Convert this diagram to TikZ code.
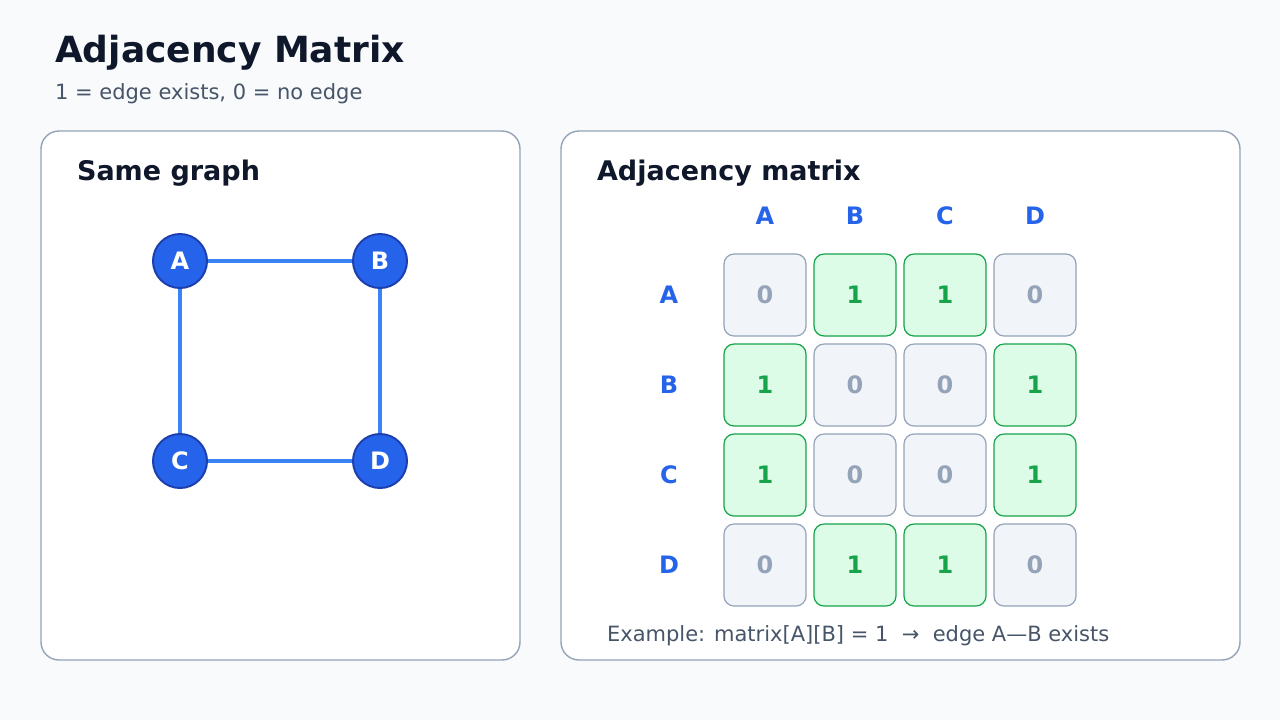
\documentclass[tikz,border=0pt]{standalone}
\usepackage{fontspec}
\setmainfont{DejaVu Sans}
\definecolor{bg}{HTML}{F8FAFC}
\definecolor{bord}{HTML}{94A3B8}
\definecolor{ink}{HTML}{0F172A}
\definecolor{sub}{HTML}{475569}
\definecolor{blue}{HTML}{2563EB}
\definecolor{dblue}{HTML}{1E40AF}
\definecolor{eblue}{HTML}{3B82F6}
\definecolor{gfill}{HTML}{DCFCE7}
\definecolor{gline}{HTML}{16A34A}
\definecolor{zfill}{HTML}{F1F5F9}
\begin{document}
\begin{tikzpicture}[x=0.5pt,y=-0.5pt,
  panel/.style={draw=bord,fill=white,rounded corners=9pt,line width=0.7pt},
  vert/.style={circle,fill=blue,draw=dblue,line width=1pt,minimum size=27pt,inner sep=0pt,text=white,font=\bfseries\fontsize{12}{14}\selectfont},
  edge/.style={eblue,line width=2pt},
  one/.style={draw=gline,fill=gfill,rounded corners=5pt,line width=0.6pt,minimum size=41pt,inner sep=0pt,text=gline,font=\bfseries\fontsize{12}{14}\selectfont},
  zero/.style={draw=bord,fill=zfill,rounded corners=5pt,line width=0.6pt,minimum size=41pt,inner sep=0pt,text=bord,font=\bfseries\fontsize{12}{14}\selectfont},
  hdr/.style={text=blue,font=\bfseries\fontsize{12}{14}\selectfont}]
\fill[bg] (0,0) rectangle (1280,720);
\useasboundingbox (0,0) rectangle (1280,720);
\node[anchor=base west,text=ink,font=\bfseries\fontsize{18}{22}\selectfont] (title) at (48,62) {Adjacency Matrix};
\node[anchor=base west,text=sub,font=\fontsize{10.5}{13}\selectfont] (subt) at (48,99) {1 = edge exists, 0 = no edge};
\draw[panel] (41,131) rectangle (520,660);
\draw[panel] (561,131) rectangle (1240,660);
\node[anchor=base west,text=ink,font=\bfseries\fontsize{13.5}{16}\selectfont] (t1) at (70,180) {Same graph};
\node[anchor=base west,text=ink,font=\bfseries\fontsize{13.5}{16}\selectfont] (t2) at (590,180) {Adjacency matrix};
\node[vert] (A) at (180,261) {A};
\node[vert] (B) at (380,261) {B};
\node[vert] (C) at (180,461) {C};
\node[vert] (D) at (380,461) {D};
\begin{scope}[on background layer/.style={}]
\end{scope}
\draw[edge] (A) -- (B);
\draw[edge] (A) -- (C);
\draw[edge] (B) -- (D);
\draw[edge] (C) -- (D);
\foreach \l [count=\i] in {A,B,C,D}{
  \node[hdr] (h\l) at (675+90*\i,216) {\l};
  \node[hdr] (r\l) at (669,205+90*\i) {\l};
}
\foreach \row [count=\r] in {{0,1,1,0},{1,0,0,1},{1,0,0,1},{0,1,1,0}}{
  \foreach \v [count=\c] in \row {
    \ifnum\v=1 \node[one] (m\r\c) at (675+90*\c,205+90*\r) {1};
    \else \node[zero] (m\r\c) at (675+90*\c,205+90*\r) {0}; \fi
  }
}
\node[anchor=base west,text=sub,font=\fontsize{10.5}{13}\selectfont] (ex) at (600,641) {Example: matrix[A][B] = 1 ~→~ edge A—B exists};
\end{tikzpicture}
\end{document}
